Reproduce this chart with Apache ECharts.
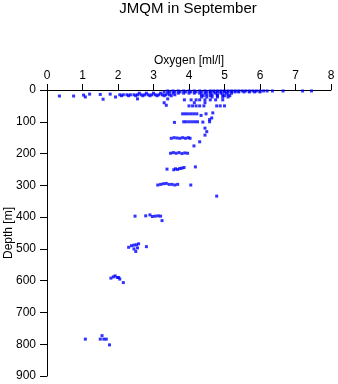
<!DOCTYPE html>
<html>
<head>
<meta charset="utf-8">
<script src="https://cdn.jsdelivr.net/npm/echarts@6/dist/echarts.min.js"></script>
<style>html,body{margin:0;padding:0;background:#fff}#c{width:338px;height:384px}</style>
</head>
<body>
<div id="c"></div>
<script>
const chartTitle = 'JMQM in September';
const xName = 'Oxygen [ml/l]';
const yName = 'Depth [m]';
const xTicks = [0, 1, 2, 3, 4, 5, 6, 7, 8];
const yTicks = [0, 100, 200, 300, 400, 500, 600, 700, 800, 900];

// Oxygen [ml/l] values and matching depths [m]
const oxygen = [
  // ~3 m
  3.4,3.55,3.7,3.85,4.0,4.15,4.3,4.45,4.6,4.7,4.8,4.9,5.0,5.1,5.2,5.3,5.4,5.5,5.6,5.7,5.8,5.9,6.0,6.1,6.2,6.35,6.65,7.2,7.45,
  // ~6 m
  3.3,3.45,3.6,3.75,3.9,4.05,4.2,4.35,4.5,4.6,4.7,4.8,4.9,5.0,5.1,5.2,5.3,5.4,5.55,5.7,5.85,6.0,
  // ~10 m
  2.6,2.8,3.0,3.2,3.4,3.55,3.7,3.85,4.0,4.15,4.3,4.45,4.6,4.75,4.9,5.05,5.2,
  // ~15 m
  2.05,2.15,2.25,2.35,2.45,2.55,2.65,2.75,2.85,2.95,3.05,3.15,3.25,3.35,3.45,3.6,4.35,4.5,4.65,4.8,4.95,5.1,
  // ~18 m
  2.1,2.3,2.5,2.7,2.9,3.1,3.3,3.5,4.4,4.6,4.8,5.0,5.15,
  // ~22 m
  4.35,4.5,4.65,4.8,4.95,5.1,
  // sparse shallow
  0.35,0.75,1.03,1.08,1.2,1.5,1.58,1.78,1.93,2.55,3.4,
  // ~31 m
  3.87,4.06,4.2,4.3,4.45,4.6,4.75,4.95,
  // ~40-50 m
  3.3,3.36,4.15,4.45,4.0,4.1,4.2,4.3,4.42,4.78,4.88,5.0,
  // ~75 m
  3.82,3.9,3.98,4.06,4.14,4.22,4.34,4.48,4.67,
  // ~90-140 m
  4.64,4.58,3.59,3.85,3.92,4.0,4.08,4.16,4.24,4.39,4.58,4.45,4.5,4.45,
  // ~150 m
  3.5,3.58,3.66,3.74,3.82,3.9,3.98,4.03,4.3,4.14,
  // ~200 m
  3.48,3.56,3.64,3.72,3.8,3.88,3.96,
  // ~250 m
  3.38,3.57,3.62,3.68,3.74,3.8,3.86,4.18,
  // ~300 m
  3.12,3.2,3.28,3.36,3.44,3.52,3.6,3.68,4.05,4.78,
  // ~400 m
  2.48,2.78,2.9,2.97,3.05,3.13,3.2,3.24,
  // ~500 m
  2.3,2.38,2.45,2.52,2.58,2.55,2.45,2.5,2.8,
  // ~600 m
  1.8,1.87,1.92,1.98,2.05,2.02,2.15,
  // ~780 m
  1.08,1.55,1.5,1.6,1.67,1.76
];
const depth = [
  3,3,3,3,3,3,3,3,3,3,3,3,3,3,3,3,3,3,3,3,3,3,3,3,3,3,3,3,3,
  6,6,6,6,6,6,6,6,6,6,6,6,6,6,6,6,6,6,6,6,6,6,
  10,10,10,10,10,10,10,10,10,10,10,10,10,10,10,10,10,
  15,15,15,15,15,15,15,15,15,15,15,15,15,15,15,15,15,15,15,15,15,15,
  18,18,18,18,18,18,18,18,18,18,18,18,18,
  22,22,22,22,22,22,
  19,19,16,22,13,14,29,13,22,28,28,
  31,31,31,31,31,31,31,31,
  40,48,40,40,50,50,50,50,50,50,50,50,
  75,75,75,75,75,75,80,75,72,
  88,93,102,100,100,100,100,100,100,101,100,120,131,142,
  152,150,151,152,150,152,150,152,163,176,
  199,197,199,197,200,198,199,
  249,251,248,250,247,246,244,242,
  299,297,295,294,297,297,299,297,299,334,
  397,396,393,398,397,396,397,411,
  495,490,488,487,484,497,500,508,493,
  592,588,585,590,595,590,606,
  784,773,784,784,784,802
];

const points = oxygen.map((o, i) => [o, depth[i]]);
const font = 'Liberation Sans, Arial, sans-serif';
const chart = echarts.init(document.getElementById('c'), null, {renderer: 'canvas'});
chart.setOption({
  animation: false,
  backgroundColor: '#fff',
  title: {
    text: chartTitle, left: 188, top: 1, padding: 0, textAlign: 'center',
    textStyle: {fontFamily: font, fontSize: 15, fontWeight: 'normal', color: '#000'}
  },
  grid: {left: 47, top: 90, width: 284, height: 286, containLabel: false, outerBoundsMode: 'none'},
  xAxis: {
    type: 'value', position: 'top', min: xTicks[0], max: xTicks[xTicks.length - 1], interval: 1,
    name: xName, nameLocation: 'middle', nameGap: 23, nameMoveOverlap: false,
    nameTextStyle: {fontFamily: font, fontSize: 12, color: '#000'},
    axisLine: {onZero: false, lineStyle: {color: '#000', width: 1}},
    axisTick: {length: 6, lineStyle: {color: '#000'}},
    axisLabel: {fontFamily: font, fontSize: 12, color: '#000', margin: 8},
    splitLine: {show: false}
  },
  yAxis: {
    type: 'value', inverse: true, min: yTicks[0], max: yTicks[yTicks.length - 1], interval: 100,
    name: yName, nameLocation: 'middle', nameGap: 32, nameMoveOverlap: false,
    nameTextStyle: {fontFamily: font, fontSize: 12, color: '#000'},
    axisLine: {show: true, onZero: false, lineStyle: {color: '#000', width: 1}},
    axisTick: {show: true, length: 7, lineStyle: {color: '#000'}},
    axisLabel: {fontFamily: font, fontSize: 12, color: '#000', margin: 11},
    splitLine: {show: false}
  },
  series: [{
    type: 'scatter', data: points, symbol: 'rect', symbolSize: 3,
    itemStyle: {color: '#0000ff'}
  }]
});
</script>
</body>
</html>
